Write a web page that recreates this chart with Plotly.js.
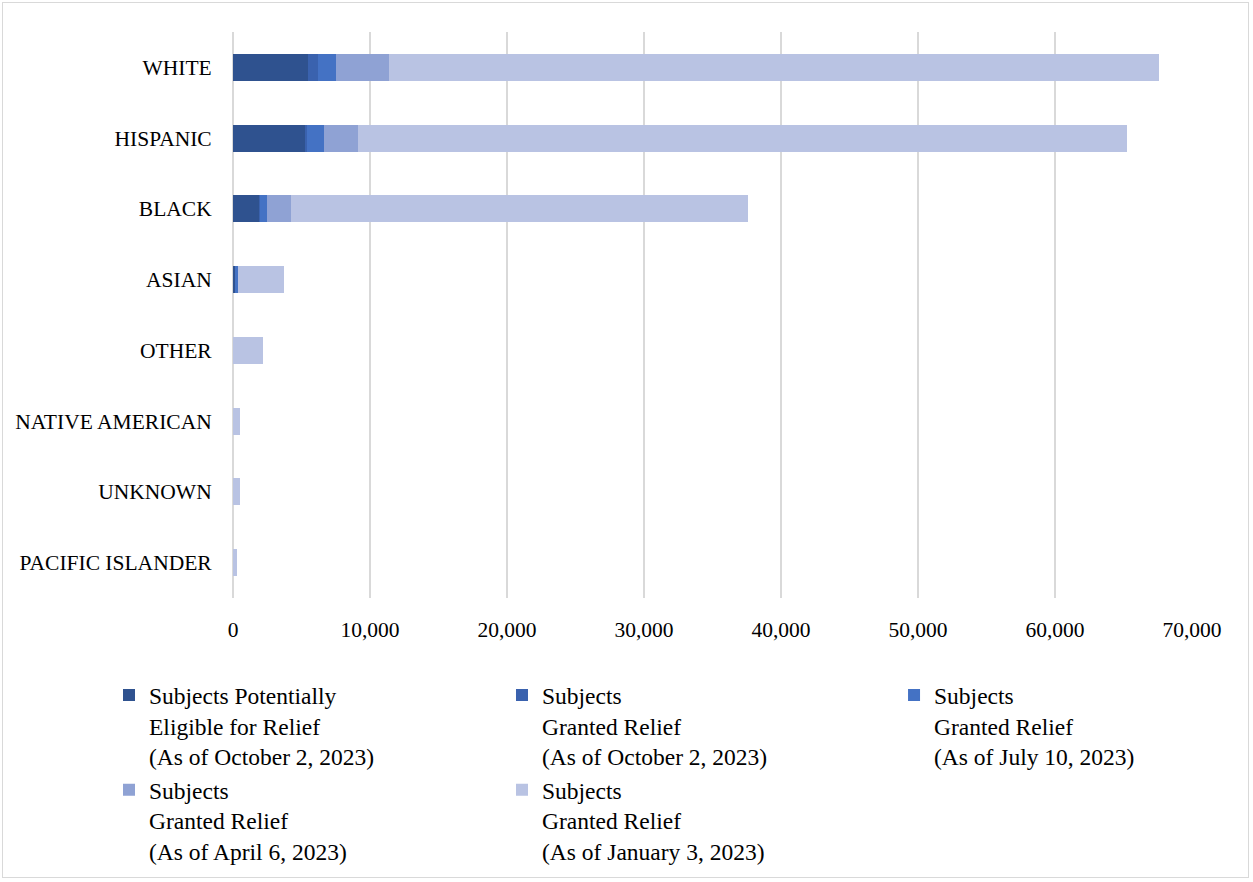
<!DOCTYPE html>
<html><head><meta charset="utf-8">
<script src="https://cdn.plot.ly/plotly-3.0.1.min.js"></script>
<style>
html,body{margin:0;padding:0;background:#fff;}
#frame{position:absolute;left:2px;top:2px;width:1247px;height:876px;border:1px solid #d9d9d9;box-sizing:border-box;pointer-events:none;z-index:5;}
#chart{position:absolute;left:0;top:0;width:1253px;height:882px;}
</style></head>
<body>
<div id="chart"></div><div id="frame"></div>
<script>
const categories = ["WHITE","HISPANIC","BLACK","ASIAN","OTHER","NATIVE AMERICAN","UNKNOWN","PACIFIC ISLANDER"];
const potentiallyEligibleOct2 = [5500, 5250, 1900, 150, 0, 0, 0, 0];
const grantedOct2  = [700, 150, 80, 30, 0, 0, 0, 0];
const grantedJul10 = [1300, 1250, 500, 180, 0, 0, 0, 0];
const grantedApr6  = [3900, 2500, 1750, 0, 0, 0, 0, 0];
const grantedJan3  = [56200, 56100, 33350, 3350, 2180, 520, 510, 300];
const seriesNames = [
  "Subjects Potentially<br>Eligible for Relief<br>(As of October 2, 2023)",
  "Subjects<br>Granted Relief<br>(As of October 2, 2023)",
  "Subjects<br>Granted Relief<br>(As of July 10, 2023)",
  "Subjects<br>Granted Relief<br>(As of April 6, 2023)",
  "Subjects<br>Granted Relief<br>(As of January 3, 2023)"
];
const seriesValues = [potentiallyEligibleOct2, grantedOct2, grantedJul10, grantedApr6, grantedJan3];
const colors = ["#2F528F", "#3A62AE", "#4472C4", "#8FA2D4", "#B9C3E3"];
const legendOf = ["legend", "legend2", "legend3", "legend", "legend2"];
const xTicks = [0,10000,20000,30000,40000,50000,60000,70000];

const fam = "Liberation Serif, Times New Roman, serif";
const tickFont = {family: fam, color: "#000", size: 21.5};
const legFont = {family: fam, color: "#000", size: 23.5};
const traces = seriesValues.map((v,i)=>({
  type: "bar", orientation: "h", x: v, y: categories, name: seriesNames[i],
  legend: legendOf[i], legendgroup: "g" + i,
  marker: {color: colors[i], line: {width: 0}}, hoverinfo: "x+y"
}));

const legBase = {orientation: "v", xanchor: "left", yanchor: "top", y: -0.133,
  font: legFont, itemwidth: 30, bgcolor: "rgba(0,0,0,0)", traceorder: "normal", valign: "top",
  tracegroupgap: 4};
const layout = {
  width: 1253, height: 882,
  margin: {l: 233, r: 61, t: 32, b: 284, autoexpand: false},
  paper_bgcolor: "#fff", plot_bgcolor: "#fff",
  font: tickFont,
  barmode: "stack", bargap: 0.62,
  xaxis: {range: [0, 70000], tickvals: xTicks, ticktext: xTicks.map(t=>t.toLocaleString("en-US")),
          showgrid: true, gridcolor: "#d9d9d9", gridwidth: 2, zeroline: true, zerolinecolor: "#d9d9d9", zerolinewidth: 2,
          showline: false, ticks: "outside", ticklen: 12, tickcolor: "rgba(0,0,0,0)", tickfont: tickFont, fixedrange: true},
  yaxis: {categoryorder: "array", categoryarray: categories, autorange: "reversed",
          showgrid: false, zeroline: false, showline: false, ticks: "outside", ticklen: 16, tickcolor: "rgba(0,0,0,0)",
          tickfont: tickFont, fixedrange: true},
  showlegend: true,
  legend: Object.assign({}, legBase, {x: -0.1293}),
  legend2: Object.assign({}, legBase, {x: 0.2805}),
  legend3: Object.assign({}, legBase, {x: 0.6893})
};
Plotly.newPlot("chart", traces, layout, {displayModeBar: false, staticPlot: true});
</script>
</body></html>
